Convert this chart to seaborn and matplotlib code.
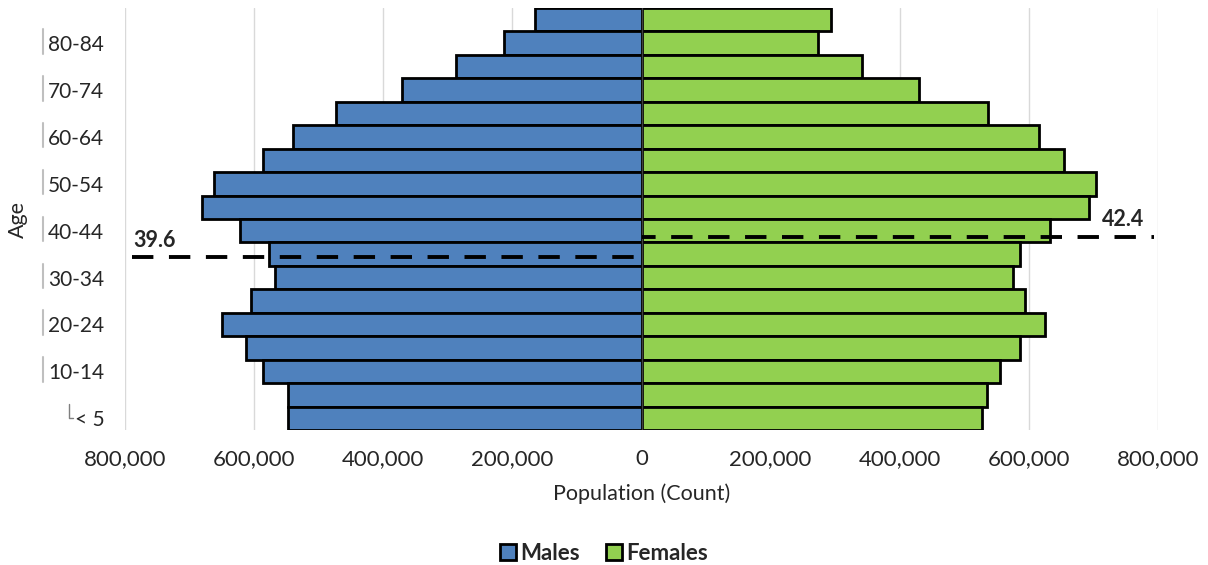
import numpy as np
import pandas as pd
import matplotlib
matplotlib.use("Agg")
import matplotlib.pyplot as plt
import matplotlib.transforms as mtransforms
from matplotlib.patches import Patch
import seaborn as sns

sns.set_style("white")
plt.rcParams["font.family"] = ["Lato", "DejaVu Sans"]

# age groups, youngest first
age_groups = ["< 5", "5-9", "10-14", "15-19", "20-24", "25-29", "30-34", "35-39",
              "40-44", "45-49", "50-54", "55-59", "60-64", "65-69", "70-74",
              "75-79", "80-84", "85+"]
males = [547600, 547600, 586300, 612600, 649700, 604900, 567700, 577000,
         621900, 680700, 662100, 586300, 539900, 473400, 371300, 287700,
         213500, 165500]
females = [527500, 535300, 555400, 586300, 625000, 594000, 575500, 586300,
           632700, 693000, 703900, 654400, 615700, 536800, 430000, 341900,
           273800, 293900]
median_male = 39.6
median_female = 42.4
x_ticks = [-800000, -600000, -400000, -200000, 0, 200000, 400000, 600000, 800000]

male_color = "#4F81BD"
female_color = "#92D050"

df = pd.DataFrame({
    "Age": age_groups * 2,
    "Population": [-v for v in males] + females,
    "Sex": ["Males"] * len(males) + ["Females"] * len(females),
})

fig = plt.figure(figsize=(12.08, 5.65), dpi=100)
ax = fig.add_axes([125 / 1208, 1 - 430 / 565, 1033 / 1208, 422 / 565])

order = age_groups[::-1]  # 85+ on top
sns.barplot(data=df, x="Population", y="Age", hue="Sex", order=order,
            palette={"Males": male_color, "Females": female_color},
            saturation=1, dodge=False, width=1.0, edgecolor="black",
            linewidth=2, orient="h", legend=False, ax=ax, zorder=2)

ax.set_xlim(-800000, 800000)
ax.set_ylim(len(order) - 0.5, -0.5)
ax.set_xticks(x_ticks)
ax.set_xticklabels([f"{abs(v):,}" for v in x_ticks], fontsize=16)
ax.grid(axis="x", color="#D9D9D9", linewidth=1, zorder=0)
ax.set_axisbelow(True)
ax.axvline(0, color="#404040", linewidth=1, zorder=3)
for s in ax.spines.values():
    s.set_visible(False)
ax.tick_params(axis="both", length=0)
ax.tick_params(axis="x", pad=14)
ax.tick_params(axis="y", pad=15)

# every other age label, like the original
label_pos = [order.index(a) for a in age_groups[::2]]
ax.set_yticks(label_pos)
ax.set_yticklabels(age_groups[::2], fontsize=15)
ax.set_xlabel("Population (Count)", fontsize=15.5, labelpad=10)
ax.set_ylabel("Age", fontsize=15.5)
ax.yaxis.set_label_coords(-0.094, 0.5)

# small grey category marks left of the labels
trans = mtransforms.blended_transform_factory(ax.transAxes, ax.transData)
for p in label_pos[1:]:
    ax.plot([-0.0794, -0.0794], [p - 0.6, p + 0.45], color="#BFBFBF",
            linewidth=1.5, transform=trans, clip_on=False)
p0 = label_pos[0]
ax.plot([-0.0545, -0.0545, -0.0505], [p0 - 0.62, p0 - 0.0, p0 - 0.0],
        color="#7F7F7F", linewidth=1, transform=trans, clip_on=False)

# median age lines on a secondary scale
ax2 = ax.twinx()
ax2.set_ylim(16.3, 73.3)
ax2.axis("off")
ax2.axhline(median_male, xmin=0.007, xmax=0.5, color="black", linewidth=2.8,
            linestyle=(0, (5.5, 4)), zorder=5)
ax2.axhline(median_female, xmin=0.5, xmax=0.996, color="black", linewidth=2.8,
            linestyle=(2, (5.5, 4)), zorder=5)
t2 = mtransforms.blended_transform_factory(ax2.transAxes, ax2.transData)
ax2.annotate(f"{median_male}", xy=(0.008, median_male), xycoords=t2,
             xytext=(0, 5), textcoords="offset points", ha="left", va="bottom",
             fontsize=15.5, fontweight="bold")
ax2.annotate(f"{median_female}", xy=(0.987, median_female), xycoords=t2,
             xytext=(0, 5), textcoords="offset points", ha="right", va="bottom",
             fontsize=15.5, fontweight="bold")

handles = [Patch(facecolor=male_color, edgecolor="black", linewidth=2, label="Males"),
           Patch(facecolor=female_color, edgecolor="black", linewidth=2, label="Females")]
fig.legend(handles=handles, loc="center", bbox_to_anchor=(0.5, 1 - 553 / 565),
           ncol=2, frameon=False, handlelength=0.7, handleheight=0.7,
           handletextpad=0.2, columnspacing=1.2,
           prop={"size": 16, "weight": "bold"})

fig.savefig("out.png", dpi=100)
